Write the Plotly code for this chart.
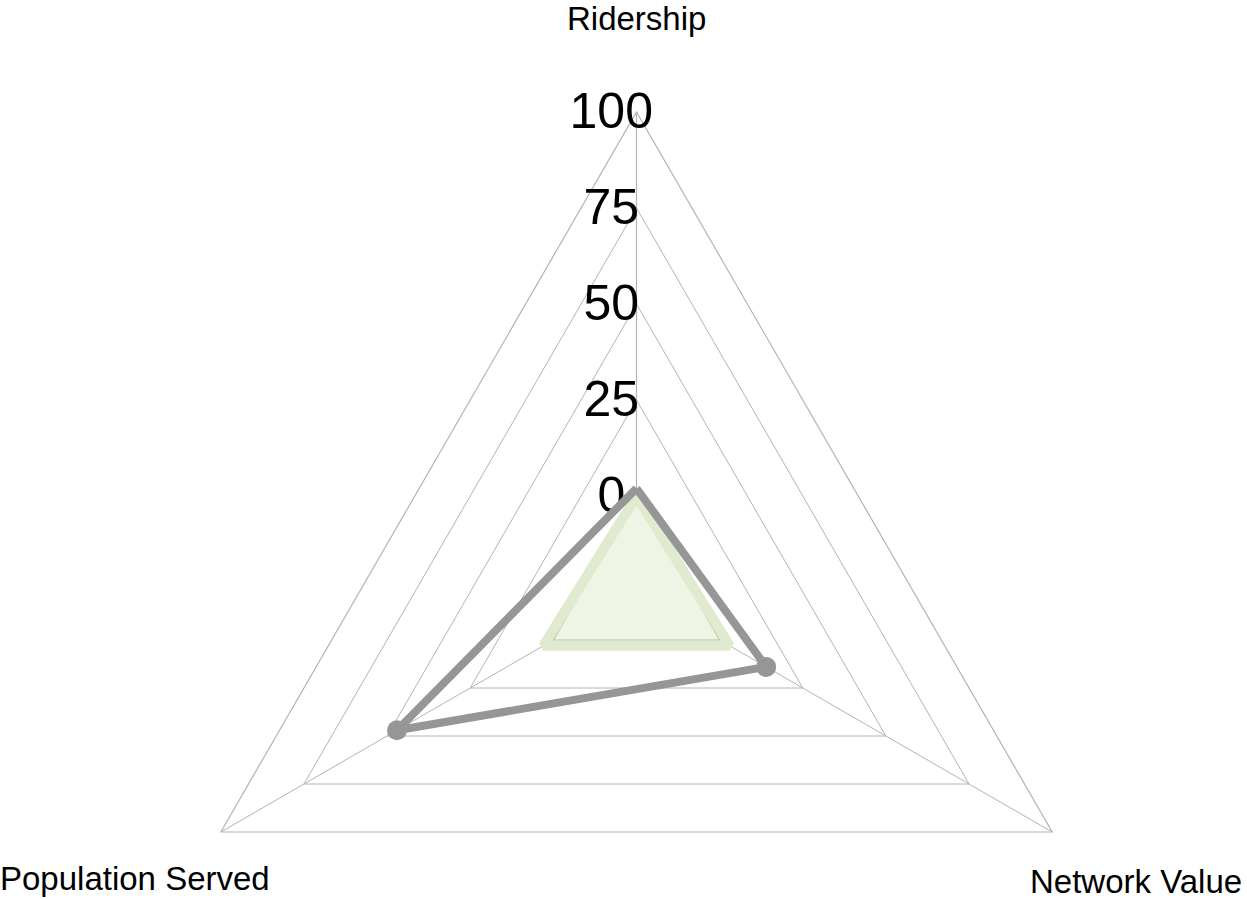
import plotly.graph_objects as go

categories = ["Ridership", "Network Value", "Population Served"]
series_grey = [2, 14, 47]
series_green = [0, 3, 3]
radial_ticks = [0, 25, 50, 75, 100]
radial_ticktext = ["0", "25", "50", "75", "100"]

GRID = "#b4b4b4"
FONT = "Liberation Sans, Arial, sans-serif"
NB = "\u00a0"

def closed(v):
    return list(v) + [v[0]]

fig = go.Figure()
# grid subplot (polar) and tick-label subplot (polar2) need a trace to be drawn
for sp in ("polar", "polar2"):
    fig.add_trace(go.Scatterpolar(
        r=[None], theta=[categories[0]], subplot=sp,
        mode="markers", hoverinfo="skip", showlegend=False,
    ))
fig.add_trace(go.Scatterpolar(
    r=closed(series_green), theta=closed(categories), subplot="polar3",
    mode="lines+markers", fill="toself",
    line=dict(color="rgb(224,234,206)", width=10),
    marker=dict(color="rgb(224,234,206)", size=20),
    fillcolor="rgba(196,215,155,0.27)",
    hoverinfo="skip", cliponaxis=False,
))
fig.add_trace(go.Scatterpolar(
    r=closed(series_grey), theta=closed(categories), subplot="polar3",
    mode="lines+markers",
    line=dict(color="#969696", width=8),
    marker=dict(color="#969696", size=20),
    hoverinfo="skip", cliponaxis=False,
))

label_pos = {
    "Ridership": (0.4996, 1.097),
    "Network Value": (0.9095, 0.198),
    "Population Served": (0.0893, 0.202),
}
for name in categories:
    px, py = label_pos[name]
    fig.add_annotation(
        x=px, y=py, xref="paper", yref="paper", text=name, showarrow=False,
        xanchor="center", yanchor="middle",
        font=dict(family=FONT, size=33, color="black"),
    )

HOLE = 0.2
RMIN, RMAX = 0, 100
r_inner = RMIN - (RMAX - RMIN) * HOLE / (1 - HOLE)

max_len = max(len(t) for t in radial_ticktext)
padded_text = [t + NB * (max_len - len(t)) for t in radial_ticktext]

hidden_angular = dict(
    type="category", categoryorder="array", categoryarray=categories,
    direction="clockwise", rotation=90,
    showline=False, showgrid=False, showticklabels=False, ticks="",
)

fig.update_layout(
    width=1247, height=1072,
    margin=dict(l=26, r=0, t=112, b=0),
    paper_bgcolor="white", plot_bgcolor="white",
    showlegend=False,
    font=dict(family=FONT, color="black"),
    polar=dict(
        domain=dict(x=[0, 1], y=[0, 1]),
        bgcolor="white",
        gridshape="linear",
        hole=HOLE,
        radialaxis=dict(
            range=[RMIN, RMAX], tickvals=radial_ticks,
            angle=90, side="counterclockwise",
            showline=True, linecolor=GRID, linewidth=1.2,
            gridcolor=GRID, gridwidth=1.2,
            ticks="", showticklabels=False,
        ),
        angularaxis=dict(
            type="category", categoryorder="array", categoryarray=categories,
            direction="clockwise", rotation=90,
            showline=True, linecolor=GRID, linewidth=1.2,
            gridcolor=GRID, gridwidth=1.2,
            ticks="", showticklabels=False,
        ),
    ),
    polar2=dict(
        domain=dict(x=[49 / 1221, 1], y=[0, 1]),
        bgcolor="rgba(0,0,0,0)",
        gridshape="linear",
        hole=HOLE,
        radialaxis=dict(
            range=[RMIN, RMAX], tickvals=radial_ticks, ticktext=padded_text,
            angle=90, side="counterclockwise", tickangle=90,
            showline=False, showgrid=False,
            ticks="", tickfont=dict(size=50, color="black", family=FONT),
        ),
        angularaxis=hidden_angular,
    ),
    polar3=dict(
        domain=dict(x=[0, 1], y=[0, 1]),
        bgcolor="rgba(0,0,0,0)",
        gridshape="linear",
        radialaxis=dict(
            range=[r_inner, RMAX], showline=False, showgrid=False,
            showticklabels=False, ticks="",
        ),
        angularaxis=hidden_angular,
    ),
)

fig.write_html(
    "out.html",
    post_script="document.documentElement.style.overflow='hidden';document.body.style.overflow='hidden';",
)
